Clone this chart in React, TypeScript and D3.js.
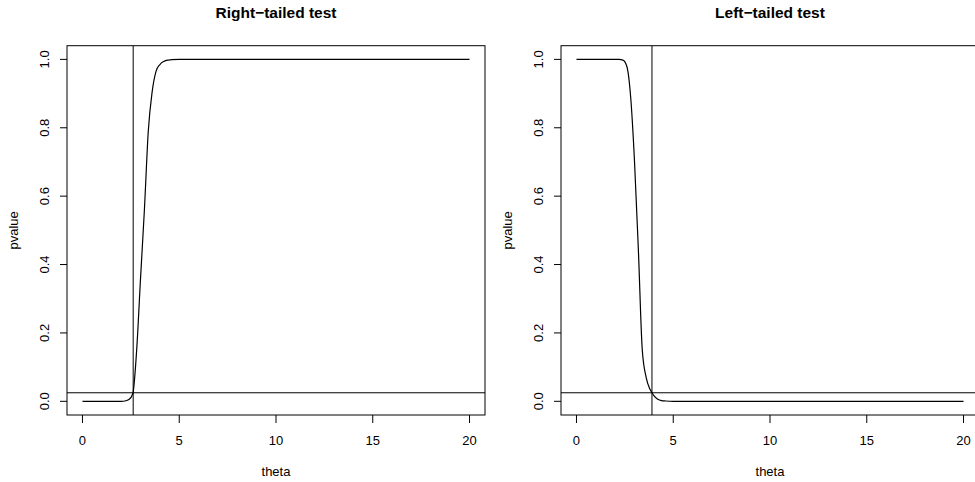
import React from 'react';
import * as d3 from 'd3';

// theta grid and p-values
const rightTheta = [0, 2.0, 2.2, 2.4, 2.6, 2.8, 3.0, 3.2, 3.4, 3.6, 3.8, 4.0, 4.2, 4.4, 4.6, 5, 20];
const rightP = [0, 0, 0.001, 0.005, 0.022, 0.15, 0.36, 0.56, 0.79, 0.905, 0.965, 0.985, 0.994, 0.998, 0.999, 1, 1];

const leftTheta = [0, 2.2, 2.4, 2.6, 2.8, 3.0, 3.2, 3.4, 3.6, 3.8, 4.0, 4.2, 4.4, 4.6, 5, 20];
const leftP = [1, 1, 0.998, 0.98, 0.89, 0.7, 0.44, 0.15, 0.07, 0.035, 0.017, 0.006, 0.002, 0.001, 0, 0];

const xTicks = [0, 5, 10, 15, 20];
const yTicks = [0, 0.2, 0.4, 0.6, 0.8, 1.0];

const panels = [
  { title: 'Right\u2212tailed test', theta: rightTheta, p: rightP, cut: 2.62, alpha: 0.025, left: 67, right: 485 },
  { title: 'Left\u2212tailed test', theta: leftTheta, p: leftP, cut: 3.9, alpha: 0.025, left: 561, right: 979 },
];

const top = 45.7;
const bottom = 415;
const font = '"Liberation Sans", Arial, Helvetica, sans-serif';

const Panel = ({ cfg, idx }) => {
  const x = d3.scaleLinear().domain([-0.8, 20.8]).range([cfg.left, cfg.right]);
  const y = d3.scaleLinear().domain([-0.04, 1.04]).range([bottom, top]);
  const pts = cfg.theta.map((t, i) => [t, cfg.p[i]]);
  const line = d3.line().x(d => x(d[0])).y(d => y(d[1])).curve(d3.curveMonotoneX);
  const cx = (cfg.left + cfg.right) / 2;
  const clipId = `clip${idx}`;
  return (
    <g>
      <defs>
        <clipPath id={clipId}>
          <rect x={cfg.left} y={top} width={cfg.right - cfg.left} height={bottom - top} />
        </clipPath>
      </defs>
      <text x={cx} y={18} textAnchor="middle" fontWeight="bold" fontSize={15.5} fontFamily={font}>{cfg.title}</text>
      <g clipPath={`url(#${clipId})`} fill="none" stroke="#000" strokeWidth={1}>
        <path d={line(pts)} strokeWidth={1.2} />
        <line x1={x(cfg.cut)} x2={x(cfg.cut)} y1={top} y2={bottom} />
        <line x1={cfg.left} x2={cfg.right} y1={y(cfg.alpha)} y2={y(cfg.alpha)} />
      </g>
      <rect x={cfg.left} y={top} width={cfg.right - cfg.left} height={bottom - top} fill="none" stroke="#000" strokeWidth={1} />
      {xTicks.map(t => (
        <g key={t}>
          <line x1={x(t)} x2={x(t)} y1={bottom} y2={bottom + 8} stroke="#000" />
          <text x={x(t)} y={445} textAnchor="middle" fontSize={13} fontFamily={font}>{t}</text>
        </g>
      ))}
      {yTicks.map(t => (
        <g key={t}>
          <line x1={cfg.left} x2={cfg.left - 7} y1={y(t)} y2={y(t)} stroke="#000" />
          <text transform={`translate(${cfg.left - 18},${y(t)}) rotate(-90)`} textAnchor="middle" fontSize={13} fontFamily={font}>{t.toFixed(1)}</text>
        </g>
      ))}
      <text x={cx} y={476} textAnchor="middle" fontSize={13} fontFamily={font}>theta</text>
      <text transform={`translate(${cfg.left - 49},${(top + bottom) / 2}) rotate(-90)`} textAnchor="middle" fontSize={13} fontFamily={font}>pvalue</text>
    </g>
  );
};

export default function App() {
  return (
    <svg width={975} height={482} style={{ position: 'absolute', left: 0, top: 0, background: '#fff' }}>
      <rect width={975} height={482} fill="#fff" />
      {panels.map((p, i) => <Panel key={i} cfg={p} idx={i} />)}
    </svg>
  );
}
